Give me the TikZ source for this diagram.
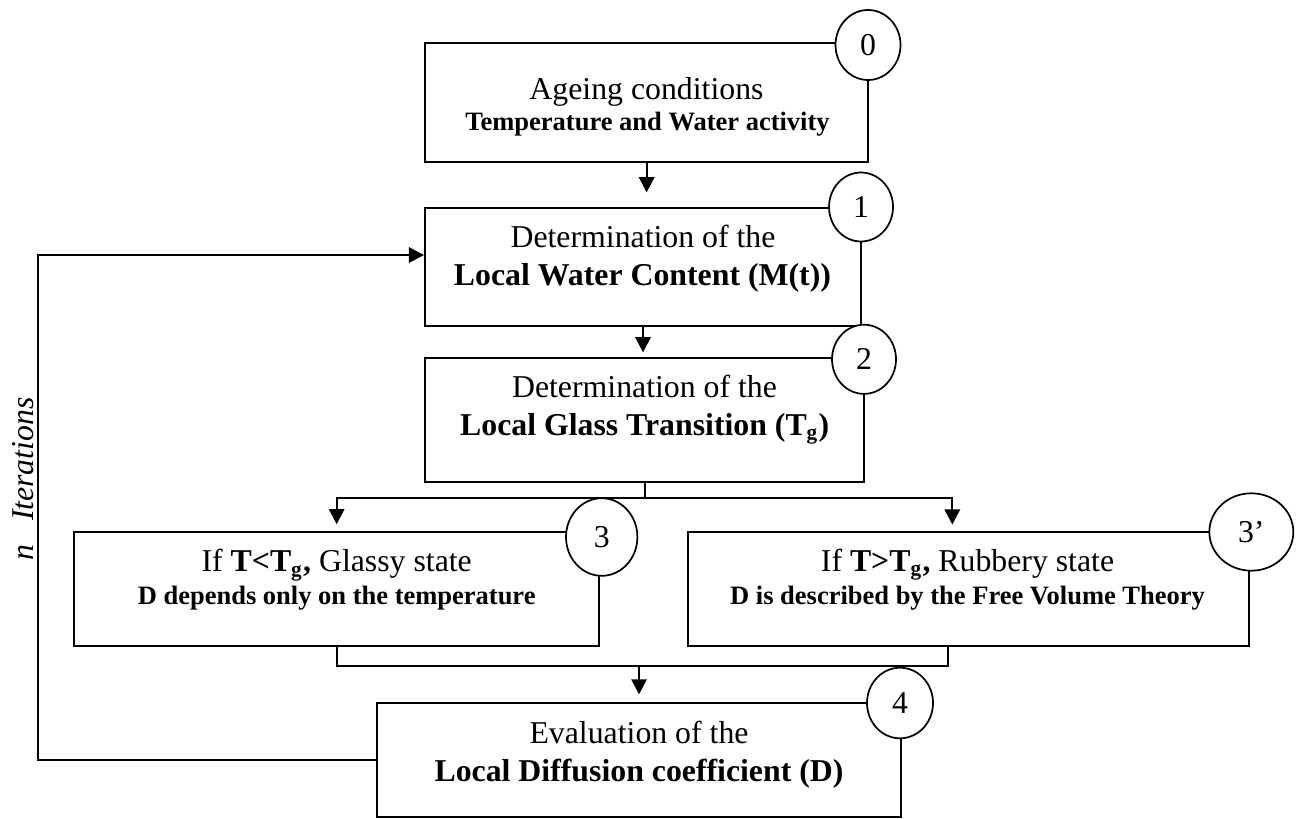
\documentclass[tikz,border=0pt]{standalone}
\usepackage{fontspec}
\setmainfont{Liberation Serif}
\usetikzlibrary{arrows.meta,shapes.geometric,fit,calc}
\tikzset{
  box/.style={draw, line width=0.75pt, inner sep=0pt, rectangle},
  circ/.style={draw, fill=white, ellipse, line width=0.65pt, inner sep=0pt, font=\fontsize{12pt}{14pt}\selectfont},
  conn/.style={draw, line width=0.75pt},
  arr/.style={conn, -{Triangle[length=5.7pt,width=5.8pt]}},
  big/.style={anchor=base, inner sep=0pt, font=\fontsize{12pt}{14pt}\selectfont},
  small/.style={anchor=base, inner sep=0pt, font=\fontsize{10pt}{12pt}\selectfont\bfseries},
}
\begin{document}
\begin{tikzpicture}[x=0.3774pt,y=-0.3774pt]
\useasboundingbox (0,0) rectangle (1302,819);
% boxes
\node[box, fit={(425,43.3) (868.3,162.3)}] (b0) {};
\node[box, fit={(425,208.3) (861,326)}] (b1) {};
\node[box, fit={(425,357.7) (864.3,482.3)}] (b2) {};
\node[box, fit={(74,532.3) (599.3,645.7)}] (b3) {};
\node[box, fit={(687.7,532) (1249,645.7)}] (b3p) {};
\node[box, fit={(377.3,703.3) (900.8,817)}] (b4) {};
% texts
\node[big] (t0a) at (646.5,99.3) {Ageing conditions};
\node[small] (t0b) at (647.5,131) {Temperature and Water activity};
\node[big] (t1a) at (643,247.3) {Determination of the};
\node[big] (t1b) at (642.5,286) {\bfseries Local Water Content (M(t))};
\node[big] (t2a) at (644.5,397.7) {Determination of the};
\node[big] (t2b) at (644.7,435) {\bfseries Local Glass Transition (T\textsubscript{g})};
\node[big] (t3a) at (336.7,571.7) {If \textbf{T<T\textsubscript{g},} Glassy state};
\node[small] (t3b) at (336.7,604) {D depends only on the temperature};
\node[big] (t3pa) at (967.5,571) {If \textbf{T>T\textsubscript{g},} Rubbery state};
\node[small] (t3pb) at (967.5,604.3) {D is described by the Free Volume Theory};
\node[big] (t4a) at (639,743.3) {Evaluation of the};
\node[big] (t4b) at (639,781.7) {\bfseries Local Diffusion coefficient (D)};
\node[big, rotate=90] (iter) at (33.3,479) {\itshape n\hspace{9pt}Iterations};
% connectors
\coordinate (sy) at (0,497.7);
\coordinate (my) at (0,665.5);
\coordinate (r3) at (952.3,532);
\coordinate (s3p) at (948.3,645.7);
\coordinate (lp) at (38.3,255);
\draw[arr, shorten >=5.66pt] (b0.south) -- (b0.south |- b1.north);
\draw[arr, shorten >=1.66pt] (b1.south) -- (b1.south |- b2.north);
\draw[conn] (b2.south) -- (b2.south |- sy) coordinate (sp);
\draw[arr, shorten >=2.7pt] (sp) -| (b3.north);
\draw[arr, shorten >=2.8pt] (sp) -| (r3);
\draw[conn] (b3.south) |- (s3p |- my) -- (s3p);
\draw[arr, shorten >=3pt] (b4.north |- my) -- (b4.north);
\draw[arr] (b4.west) -| (lp) -- (lp -| b1.west);
% numbered circles
\node[circ, minimum width=24.53pt, minimum height=26.42pt] (c0) at (868,45) {0};
\node[circ, minimum width=24.15pt, minimum height=26.04pt] (c1) at (861,207) {1};
\node[circ, minimum width=24.15pt, minimum height=26.1pt] (c2) at (864,359.3) {2};
\node[circ, minimum width=26.95pt, minimum height=29.29pt] (c3) at (601.7,537) {3};
\node[circ, minimum width=31.7pt, minimum height=29.21pt] (c3p) at (1251.3,532) {3’};
\node[circ, minimum width=24.91pt, minimum height=26.64pt] (c4) at (900,703) {4};
\end{tikzpicture}
\end{document}
